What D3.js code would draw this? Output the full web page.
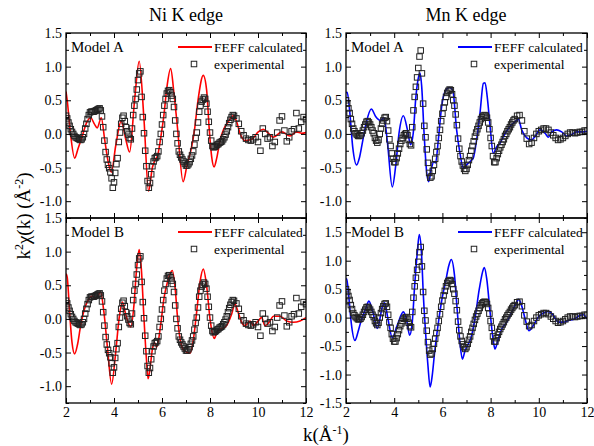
<!DOCTYPE html>
<html><head><meta charset="utf-8">
<script src="https://cdn.jsdelivr.net/npm/d3@7"></script>
<style>
body{margin:0;background:#fff}
svg{display:block}
</style>
</head><body>
<svg id="c" width="594" height="446"></svg>
<script>
// ---------- DATA ----------
const titles = ["Ni K edge", "Mn K edge"];
const xTicks = [2, 4, 6, 8, 10, 12];
const xMinor = [3, 5, 7, 9, 11];
const yTicksStd = [-1, -0.5, 0, 0.5, 1, 1.5];
const yTicksMnB = [-1.5, -1, -0.5, 0, 0.5, 1, 1.5];
const yMinor = [-1.25, -0.75, -0.25, 0.25, 0.75, 1.25];
const legendLabels = ["FEFF calculated", "experimental"];

// experimental k grid: 2.00..8.95 step 0.05, then 9.0..12.0 step 0.1
const kGrid = d3.range(140).map(i => +(2 + i * 0.05).toFixed(2))
  .concat(d3.range(31).map(i => +(9 + i * 0.1).toFixed(1)));

// Ni K edge experimental k^2 chi(k)
const niExp = [
 0.27,0.23,0.17,0.12,0.07,0.03,0.00,-0.03,-0.05,-0.06,-0.07,-0.08,-0.09,-0.08,-0.05,0.00,0.08,0.15,0.22,0.28,
 0.32,0.33,0.33,0.33,0.34,0.35,0.36,0.37,0.38,0.35,0.26,0.10,-0.10,-0.27,-0.38,-0.46,-0.51,-0.57,-0.66,-0.80,
 -0.72,-0.58,-0.45,-0.36,-0.12,0.02,0.15,0.24,0.27,0.19,0.10,0.04,-0.01,-0.06,-0.08,0.08,0.28,0.42,0.52,0.66,
 0.80,0.90,0.93,0.55,0.25,0.01,-0.25,-0.48,-0.70,-0.80,-0.73,-0.60,-0.48,-0.41,-0.36,-0.35,-0.33,-0.26,-0.12,0.00,
 0.14,0.28,0.42,0.52,0.60,0.64,0.65,0.62,0.57,0.52,0.40,0.20,0.00,-0.14,-0.26,-0.31,-0.35,-0.38,-0.41,-0.44,
 -0.47,-0.47,-0.45,-0.42,-0.37,-0.32,-0.26,-0.16,-0.06,0.02,0.17,0.33,0.42,0.48,0.51,0.54,0.52,0.45,0.33,0.18,
 0.02,-0.10,-0.18,-0.20,-0.19,-0.18,-0.16,-0.15,-0.13,-0.12,-0.11,-0.08,-0.05,-0.01,0.04,0.10,0.16,0.21,0.25,0.28,
 0.27,0.23,0.15,0.04,-0.02,-0.07,-0.09,-0.10,-0.08,-0.05,-0.12,-0.25,0.08,0.00,-0.07,-0.05,-0.18,-0.12,0.02,0.20,
 0.26,0.05,-0.11,-0.05,0.04,0.07,0.31,0.08,0.18,0.25,0.22
];

// Mn K edge experimental k^2 chi(k)
const mnExp = [
 0.50,0.45,0.38,0.31,0.22,0.15,0.08,0.04,0.01,-0.01,-0.03,-0.03,-0.02,0.01,0.05,0.10,0.14,0.18,0.19,0.17,
 0.14,0.10,0.05,0.01,-0.06,-0.10,-0.13,-0.09,0.00,0.08,0.15,0.20,0.24,0.25,0.19,0.05,-0.08,-0.18,-0.29,-0.37,
 -0.42,-0.42,-0.36,-0.29,-0.22,-0.15,-0.10,-0.06,-0.02,0.00,0.01,-0.02,-0.09,-0.15,-0.17,0.10,0.35,0.55,0.70,0.84,
 0.98,1.15,1.24,0.90,0.45,0.12,-0.05,-0.23,-0.43,-0.58,-0.65,-0.63,-0.55,-0.46,-0.37,-0.27,-0.18,-0.06,0.06,0.19,
 0.30,0.39,0.47,0.55,0.61,0.64,0.66,0.65,0.59,0.50,0.42,0.29,0.13,-0.07,-0.22,-0.33,-0.41,-0.47,-0.52,-0.55,
 -0.52,-0.46,-0.39,-0.33,-0.25,-0.18,-0.11,-0.04,0.02,0.07,0.12,0.17,0.22,0.25,0.27,0.28,0.27,0.24,0.17,0.07,
 -0.06,-0.18,-0.33,-0.42,-0.42,-0.36,-0.30,-0.25,-0.20,-0.16,-0.12,-0.08,-0.03,0.00,0.04,0.07,0.10,0.14,0.17,0.20,
 0.22,0.27,0.28,0.20,0.04,-0.07,-0.15,-0.13,-0.06,0.00,0.04,0.06,0.08,0.08,0.06,0.02,-0.02,-0.06,-0.09,-0.08,
 -0.06,-0.03,0.00,0.02,0.02,0.01,0.02,0.03,0.03,0.05,0.05
];

// FEFF calculated curves [k, k^2 chi]
const niFeffA = [[2.00,0.63],[2.05,0.50],[2.17,0.06],[2.36,-0.36],[2.50,-0.22],[2.68,-0.03],[2.85,0.16],[3.03,0.24],
 [3.18,0.15],[3.30,0.09],[3.47,0.24],[3.61,-0.08],[3.75,-0.40],[3.89,-0.57],[4.07,-0.18],[4.30,0.19],[4.49,-0.08],
 [4.65,-0.27],[4.86,0.51],[5.05,1.08],[5.25,0.21],[5.44,-0.85],[5.60,-0.50],[5.72,-0.38],[5.82,-0.32],[5.95,-0.05],
 [6.08,0.28],[6.20,0.68],[6.36,0.97],[6.50,0.60],[6.64,0.11],[6.88,-0.71],[7.05,-0.45],[7.20,-0.25],[7.35,0.05],
 [7.50,0.50],[7.72,0.87],[7.86,0.65],[7.97,0.06],[8.07,-0.34],[8.17,-0.49],[8.28,-0.36],[8.42,-0.09],[8.56,0.06],
 [8.76,0.18],[8.97,0.27],[9.11,0.18],[9.25,0.01],[9.46,-0.10],[9.74,-0.08],[10.01,0.03],[10.22,0.07],[10.43,0.01],
 [10.64,-0.05],[10.99,0.03],[11.33,-0.03],[11.61,0.03],[11.82,0.01],[12.00,0.02]];

const niFeffB = [[2.00,0.67],[2.05,0.62],[2.15,0.10],[2.25,-0.35],[2.36,-0.52],[2.48,-0.38],[2.61,-0.10],[2.80,0.18],
 [2.96,0.30],[3.10,0.34],[3.24,0.30],[3.44,0.40],[3.58,0.10],[3.72,-0.40],[3.90,-0.97],[4.07,-0.50],[4.21,0.00],
 [4.35,0.25],[4.50,0.05],[4.70,-0.12],[4.83,0.20],[4.94,0.74],[5.05,1.03],[5.14,0.74],[5.25,0.00],[5.35,-0.59],
 [5.42,-0.89],[5.50,-0.74],[5.60,-0.45],[5.69,-0.35],[5.78,-0.42],[5.94,-0.10],[6.08,0.30],[6.22,0.54],[6.43,0.72],
 [6.55,0.45],[6.64,0.05],[6.78,-0.35],[6.92,-0.47],[7.17,-0.51],[7.31,-0.30],[7.44,0.09],[7.58,0.54],[7.72,0.74],
 [7.86,0.49],[8.00,0.00],[8.18,-0.29],[8.28,-0.20],[8.42,-0.15],[8.55,-0.14],[8.69,-0.10],[8.90,0.07],[9.04,0.22],
 [9.18,0.09],[9.32,-0.05],[9.46,-0.10],[9.67,-0.03],[9.81,-0.10],[10.01,-0.03],[10.15,0.02],[10.29,-0.10],
 [10.50,-0.03],[10.64,0.04],[10.92,0.04],[11.19,-0.03],[11.47,-0.05],[11.75,-0.03],[12.00,0.02]];

const mnFeffA = [[2.00,0.61],[2.05,0.62],[2.15,0.35],[2.28,-0.20],[2.44,-0.46],[2.56,-0.35],[2.68,-0.13],[2.85,0.18],
 [3.05,0.37],[3.23,0.26],[3.44,0.20],[3.58,0.24],[3.72,-0.13],[3.92,-0.79],[4.06,-0.48],[4.20,0.01],[4.38,0.27],
 [4.55,0.06],[4.68,-0.16],[4.79,0.01],[4.89,0.51],[4.99,0.81],[5.07,0.91],[5.14,0.71],[5.24,0.01],[5.35,-0.58],
 [5.43,-0.71],[5.54,-0.52],[5.65,-0.41],[5.72,-0.43],[5.83,-0.09],[5.97,0.41],[6.11,0.63],[6.29,0.69],[6.43,0.65],
 [6.59,0.06],[6.73,-0.29],[6.87,-0.51],[7.00,-0.46],[7.15,-0.41],[7.28,-0.36],[7.42,-0.09],[7.56,0.31],[7.70,0.75],
 [7.77,0.76],[7.86,0.55],[7.98,0.11],[8.11,-0.29],[8.25,-0.19],[8.39,-0.14],[8.53,-0.04],[8.80,0.11],[9.01,0.18],
 [9.15,0.22],[9.29,0.06],[9.50,-0.06],[9.70,-0.09],[9.84,-0.04],[10.05,0.06],[10.26,0.01],[10.40,-0.05],
 [10.53,0.03],[10.74,0.06],[10.95,0.03],[11.16,-0.03],[11.36,-0.01],[11.57,0.03],[11.85,0.03],[12.00,0.04]];

const mnFeffB = [[2.00,0.67],[2.03,0.68],[2.12,0.35],[2.22,-0.10],[2.37,-0.40],[2.50,-0.25],[2.61,-0.08],[2.82,0.16],
 [2.95,0.29],[3.10,0.12],[3.30,-0.19],[3.51,0.19],[3.60,0.26],[3.74,-0.02],[3.92,-0.35],[4.13,-0.13],[4.38,0.10],
 [4.52,-0.05],[4.64,-0.31],[4.75,-0.08],[4.85,0.57],[4.96,1.15],[5.04,1.46],[5.13,1.15],[5.21,0.39],[5.31,-0.31],
 [5.40,-0.84],[5.49,-1.22],[5.58,-1.01],[5.68,-0.60],[5.82,-0.13],[5.96,0.27],[6.14,0.65],[6.27,0.92],[6.37,1.02],
 [6.50,0.75],[6.62,0.10],[6.73,-0.45],[6.83,-0.73],[6.94,-0.58],[7.08,-0.46],[7.21,-0.32],[7.35,-0.02],[7.53,0.50],
 [7.70,0.85],[7.74,0.88],[7.84,0.68],[7.98,0.09],[8.11,-0.40],[8.18,-0.55],[8.32,-0.37],[8.46,-0.20],[8.67,-0.08],
 [8.87,0.09],[9.08,0.27],[9.16,0.32],[9.29,0.21],[9.43,-0.02],[9.59,-0.23],[9.77,-0.14],[9.98,0.01],[10.19,0.08],
 [10.40,0.11],[10.60,0.04],[10.81,-0.08],[11.02,-0.08],[11.23,-0.05],[11.50,-0.02],[11.71,0.04],[11.85,0.05],[12.00,-0.02]];

// ---------- DRAW ----------
const FONT = "'Liberation Serif', 'Times New Roman', Times, serif";
const svg = d3.select("#c");
const fmtY = v => v.toFixed(1);

const panels = [
  {x0:66,  y0:33,  w:240, h:185, yd:[-1.25,1.5], yt:yTicksStd, feff:niFeffA, exp:niExp, color:"#ff0000", model:"Model A", xlab:false},
  {x0:66,  y0:218, w:240, h:185, yd:[-1.25,1.5], yt:yTicksStd, feff:niFeffB, exp:niExp, color:"#ff0000", model:"Model B", xlab:true},
  {x0:346, y0:33,  w:241, h:185, yd:[-1.25,1.5], yt:yTicksStd, feff:mnFeffA, exp:mnExp, color:"#0000ff", model:"Model A", xlab:false},
  {x0:346, y0:218, w:241, h:185, yd:[-1.5,1.75], yt:yTicksMnB, feff:mnFeffB, exp:mnExp, color:"#0000ff", model:"Model B", xlab:true}
];

panels.forEach((p, i) => {
  const x = d3.scaleLinear().domain([2, 12]).range([p.x0, p.x0 + p.w]);
  const y = d3.scaleLinear().domain(p.yd).range([p.y0 + p.h, p.y0]);
  const cid = "clip" + i;
  svg.append("clipPath").attr("id", cid).append("rect")
    .attr("x", p.x0).attr("y", p.y0).attr("width", p.w).attr("height", p.h);
  const g = svg.append("g").attr("clip-path", `url(#${cid})`);

  const line = d3.line().x(d => x(d[0])).y(d => y(d[1])).curve(d3.curveMonotoneX);
  g.append("path").datum(p.feff).attr("d", line)
    .attr("fill", "none").attr("stroke", p.color).attr("stroke-width", 1.6);

  const pts = p.exp.slice(0, kGrid.length).map((v, j) => [kGrid[j], v]);
  g.selectAll("rect.pt").data(pts).join("rect").attr("class", "pt")
    .attr("x", d => x(d[0]) - 2.75).attr("y", d => y(d[1]) - 2.75)
    .attr("width", 5.5).attr("height", 5.5)
    .attr("fill", "none").attr("stroke", "#222").attr("stroke-width", 1);

  // axes
  const ax = svg.append("g");
  const noDom = s => s.select(".domain").remove();
  ax.append("g").attr("transform", `translate(0,${p.y0 + p.h})`)
    .call(d3.axisBottom(x).tickValues(xTicks).tickSize(-5).tickPadding(4).tickFormat(p.xlab ? (d => d) : ""))
    .call(noDom);
  ax.append("g").attr("transform", `translate(0,${p.y0 + p.h})`)
    .call(d3.axisBottom(x).tickValues(xMinor).tickSize(-3).tickFormat("")).call(noDom);
  ax.append("g").attr("transform", `translate(0,${p.y0})`)
    .call(d3.axisTop(x).tickValues(xTicks).tickSize(-5).tickFormat("")).call(noDom);
  ax.append("g").attr("transform", `translate(0,${p.y0})`)
    .call(d3.axisTop(x).tickValues(xMinor).tickSize(-3).tickFormat("")).call(noDom);
  ax.append("g").attr("transform", `translate(${p.x0},0)`)
    .call(d3.axisLeft(y).tickValues(p.yt).tickSize(-5).tickPadding(4).tickFormat(fmtY)).call(noDom);
  ax.append("g").attr("transform", `translate(${p.x0},0)`)
    .call(d3.axisLeft(y).tickValues(yMinor).tickSize(-3).tickFormat("")).call(noDom);
  ax.append("g").attr("transform", `translate(${p.x0 + p.w},0)`)
    .call(d3.axisRight(y).tickValues(p.yt).tickSize(-5).tickFormat("")).call(noDom);
  ax.append("g").attr("transform", `translate(${p.x0 + p.w},0)`)
    .call(d3.axisRight(y).tickValues(yMinor).tickSize(-3).tickFormat("")).call(noDom);
  ax.selectAll("g").attr("font-family", FONT).attr("font-size", 14);
  ax.selectAll(".tick line").attr("stroke", "#000").attr("stroke-width", 1);
  ax.selectAll(".tick text").attr("fill", "#000");

  svg.append("rect").attr("x", p.x0).attr("y", p.y0).attr("width", p.w).attr("height", p.h)
    .attr("fill", "none").attr("stroke", "#000").attr("stroke-width", 1.3);

  // legend
  const lg = svg.append("g");
  lg.append("text").attr("x", p.x0 + 5).attr("y", p.y0 + 19).attr("font-size", 15).text(p.model);
  lg.append("line").attr("x1", p.x0 + 112).attr("x2", p.x0 + 146)
    .attr("y1", p.y0 + 14).attr("y2", p.y0 + 14).attr("stroke", p.color).attr("stroke-width", 1.8);
  lg.append("text").attr("x", p.x0 + 148).attr("y", p.y0 + 18.5).attr("font-size", 13.5).text(legendLabels[0]);
  lg.append("rect").attr("x", p.x0 + 125.25).attr("y", p.y0 + 28.25).attr("width", 5.5).attr("height", 5.5)
    .attr("fill", "none").attr("stroke", "#222").attr("stroke-width", 1);
  lg.append("text").attr("x", p.x0 + 148).attr("y", p.y0 + 35.5).attr("font-size", 13.5).text(legendLabels[1]);
});

// titles
svg.append("text").attr("x", 186).attr("y", 21).attr("text-anchor", "middle").attr("font-size", 18).text(titles[0]);
svg.append("text").attr("x", 466).attr("y", 21).attr("text-anchor", "middle").attr("font-size", 18).text(titles[1]);

// x axis title
const xt = svg.append("text").attr("x", 326).attr("y", 441).attr("text-anchor", "middle").attr("font-size", 19);
xt.append("tspan").text("k(Å");
xt.append("tspan").attr("dy", -7).attr("font-size", 12).text("-1");
xt.append("tspan").attr("dy", 7).text(")");

// y axis title
const yt = svg.append("text").attr("transform", "translate(30,216) rotate(-90)")
  .attr("text-anchor", "middle").attr("font-size", 19);
yt.append("tspan").text("k");
yt.append("tspan").attr("dy", -7).attr("font-size", 12).text("2");
yt.append("tspan").attr("dy", 7).text("χ(k) (Å");
yt.append("tspan").attr("dy", -7).attr("font-size", 12).text("-2");
yt.append("tspan").attr("dy", 7).text(")");

// force serif font on every text element
svg.selectAll("text").style("font-family", FONT).attr("fill", "#000");
</script>
</body></html>
